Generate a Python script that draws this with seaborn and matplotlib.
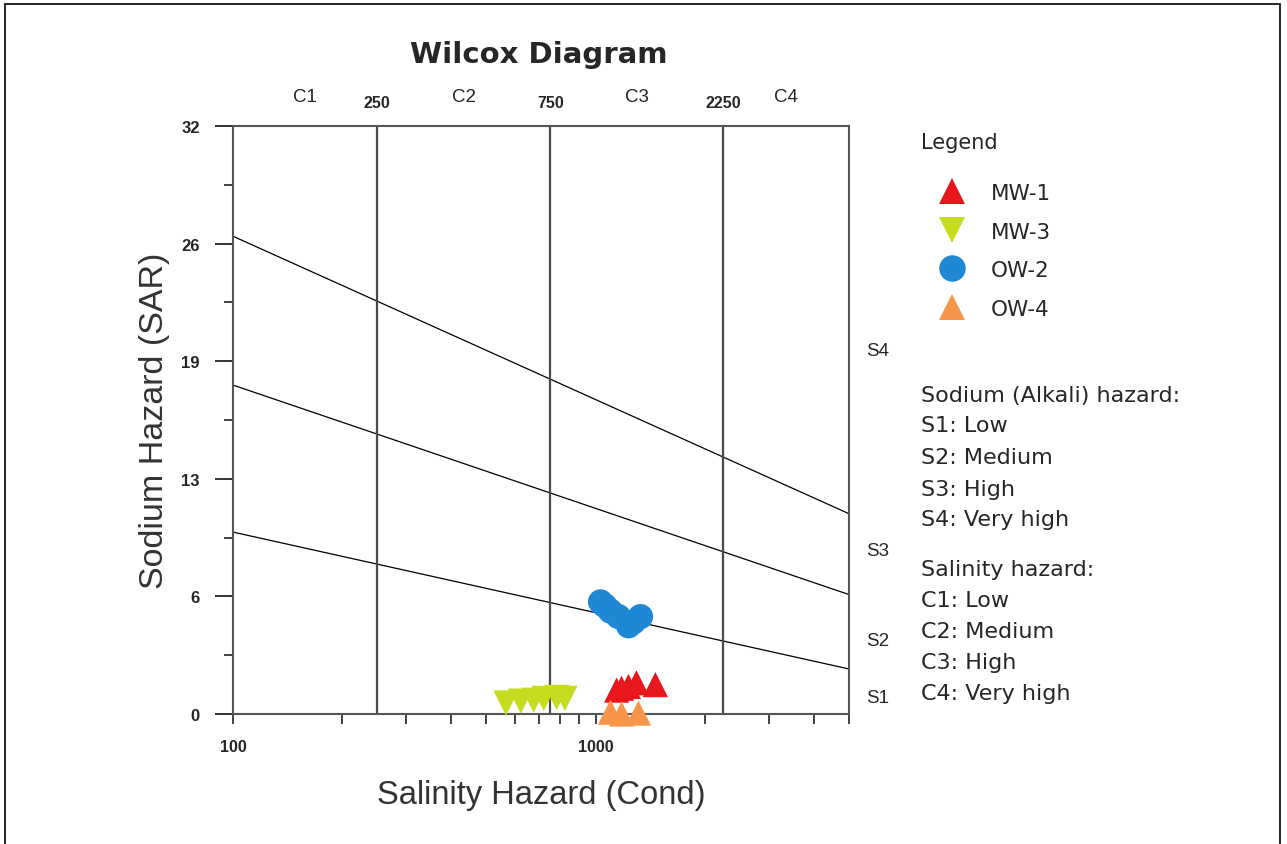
import numpy as np
import pandas as pd
import matplotlib.pyplot as plt
import seaborn as sns
from matplotlib.ticker import MultipleLocator, FixedLocator, FuncFormatter, NullFormatter
from matplotlib.patches import Rectangle
import matplotlib.transforms as mtransforms

# Sample data (EC in uS/cm, SAR)
mw1_cond = [1143, 1179, 1232, 1296, 1462]
mw1_sar = [1.3, 1.4, 1.5, 1.7, 1.6]
mw3_cond = [566, 622, 675, 720, 781, 823]
mw3_sar = [0.6, 0.7, 0.75, 0.85, 0.9, 0.85]
ow2_cond = [1032, 1060, 1099, 1156, 1233, 1271, 1330]
ow2_sar = [6.1, 5.9, 5.6, 5.3, 4.8, 5.0, 5.3]
ow4_cond = [1099, 1180, 1313]
ow4_sar = [0.1, 0.0, 0.05]

# Wilcox class boundaries
cond_limits = [250, 750, 2250]
cond_classes = ["C1", "C2", "C3", "C4"]
# SAR boundary lines: value at EC=100 and at EC=5000
sar_line_x = [100, 5000]
sar_lines = {"S1/S2": [9.9, 2.45], "S2/S3": [17.9, 6.5], "S3/S4": [26.0, 10.9]}
s_label_sar = {"S4": 19.8, "S3": 8.9, "S2": 4.0, "S1": 0.9}

wells = ["MW-1", "MW-3", "OW-2", "OW-4"]
colors = {"MW-1": "#e8161d", "MW-3": "#c5dc1f", "OW-2": "#1f88d4", "OW-4": "#f7964a"}
markers = {"MW-1": "^", "MW-3": "v", "OW-2": "o", "OW-4": "^"}

df = pd.concat([
    pd.DataFrame({"cond": mw1_cond, "sar": mw1_sar, "well": "MW-1"}),
    pd.DataFrame({"cond": mw3_cond, "sar": mw3_sar, "well": "MW-3"}),
    pd.DataFrame({"cond": ow2_cond, "sar": ow2_sar, "well": "OW-2"}),
    pd.DataFrame({"cond": ow4_cond, "sar": ow4_sar, "well": "OW-4"}),
], ignore_index=True)

sns.set_style("white")
plt.rcParams["font.family"] = ["Liberation Sans", "DejaVu Sans"]
wide = ["DejaVu Sans", "Liberation Sans"]

W, H = 1287, 845
fig = plt.figure(figsize=(W / 100, H / 100), dpi=100)
ax = fig.add_axes([233 / W, 1 - 715 / H, (849 - 233) / W, (715 - 127) / H])

def fx(px):
    return px / W

def fy(py):
    return 1 - py / H

# SAR boundary lines
for key, vals in sar_lines.items():
    ax.plot(sar_line_x, vals, color="black", lw=0.9, zorder=2)

# salinity class lines
for c in cond_limits:
    ax.axvline(c, color="#4a4a4a", lw=1.6, zorder=2)

sns.scatterplot(data=df, x="cond", y="sar", hue="well", style="well",
                hue_order=wells, style_order=wells, palette=colors, markers=markers,
                s=330, edgecolor="none", linewidth=0, ax=ax, zorder=3, clip_on=False)

ax.set_xscale("log")
ax.set_xlim(100, 5000)
ax.set_ylim(0, 32)

ax.xaxis.set_major_locator(FixedLocator([100, 1000]))
ax.xaxis.set_minor_locator(FixedLocator([200, 300, 400, 500, 600, 700, 800, 900,
                                         2000, 3000, 4000, 5000]))
ax.xaxis.set_major_formatter(FuncFormatter(lambda v, p: f"{v:.0f}"))
ax.xaxis.set_minor_formatter(NullFormatter())
ax.yaxis.set_major_locator(MultipleLocator(6.4))
ax.yaxis.set_minor_locator(MultipleLocator(3.2))
ax.yaxis.set_major_formatter(FuncFormatter(lambda v, p: f"{round(v):d}"))

ax.tick_params(axis="x", which="both", bottom=True, direction="out", length=7, width=1.3,
               color="#333333", labelsize=11.5, pad=11)
ax.tick_params(axis="y", which="major", left=True, direction="out", length=13, width=1.4,
               color="#333333", labelsize=12, pad=11)
ax.tick_params(axis="y", which="minor", left=True, direction="out", length=6.5, width=1.3,
               color="#333333")
for lab in ax.get_xticklabels() + ax.get_yticklabels():
    lab.set_fontweight("bold")

for sp in ax.spines.values():
    sp.set_color("#555555")
    sp.set_linewidth(1.5)

ax.set_xlabel("Salinity Hazard (Cond)", fontsize=23.5, color="#333333", labelpad=18)
ax.set_ylabel("Sodium Hazard (SAR)", fontsize=24.5, color="#333333", labelpad=8)

# top labels: class boundaries and class names
top = mtransforms.blended_transform_factory(ax.transData, fig.transFigure)
for c in cond_limits:
    ax.text(c, fy(104), str(c), transform=top, ha="center", va="center",
            fontsize=11.5, fontweight="bold")
bounds = [100] + cond_limits + [5000]
for i, name in enumerate(cond_classes):
    xm = np.sqrt(bounds[i] * bounds[i + 1])
    ax.text(xm, fy(98), name, transform=top, ha="center", va="center", fontsize=13.5)

# right labels: sodium classes
right = mtransforms.blended_transform_factory(fig.transFigure, ax.transData)
for name, v in s_label_sar.items():
    ax.text(fx(866), v, name, transform=right, ha="left", va="center", fontsize=13.5)

fig.text(fx(539), fy(55), "Wilcox Diagram", ha="center", va="center",
         fontsize=21, fontweight="bold", family=wide)

# legend
handles, labels = ax.get_legend_handles_labels()
ax.get_legend().remove()
fig.text(fx(921), fy(143), "Legend", ha="left", va="center", fontsize=15, family=wide)
leg = fig.legend(handles, labels, loc="upper left", bbox_to_anchor=(fx(921), fy(184)),
                 frameon=False, handlelength=2.9, handletextpad=0.35,
                 labelspacing=0.86, borderpad=0, borderaxespad=0, markerscale=1.05,
                 prop={"family": wide, "size": 15.5})

lines = [("Sodium (Alkali) hazard:", 396), ("S1: Low", 426), ("S2: Medium", 458),
         ("S3: High", 490), ("S4: Very high", 520), ("Salinity hazard:", 570),
         ("C1: Low", 601), ("C2: Medium", 632), ("C3: High", 663), ("C4: Very high", 694)]
for txt, py in lines:
    fig.text(fx(921), fy(py), txt, ha="left", va="center", fontsize=16, family=wide)

# outer frame
fig.add_artist(Rectangle((fx(5), -0.02), fx(1280) - fx(5), fy(5) + 0.02,
                         transform=fig.transFigure, fill=False, edgecolor="black", lw=1.2))

plt.savefig("out.png", dpi=100)
